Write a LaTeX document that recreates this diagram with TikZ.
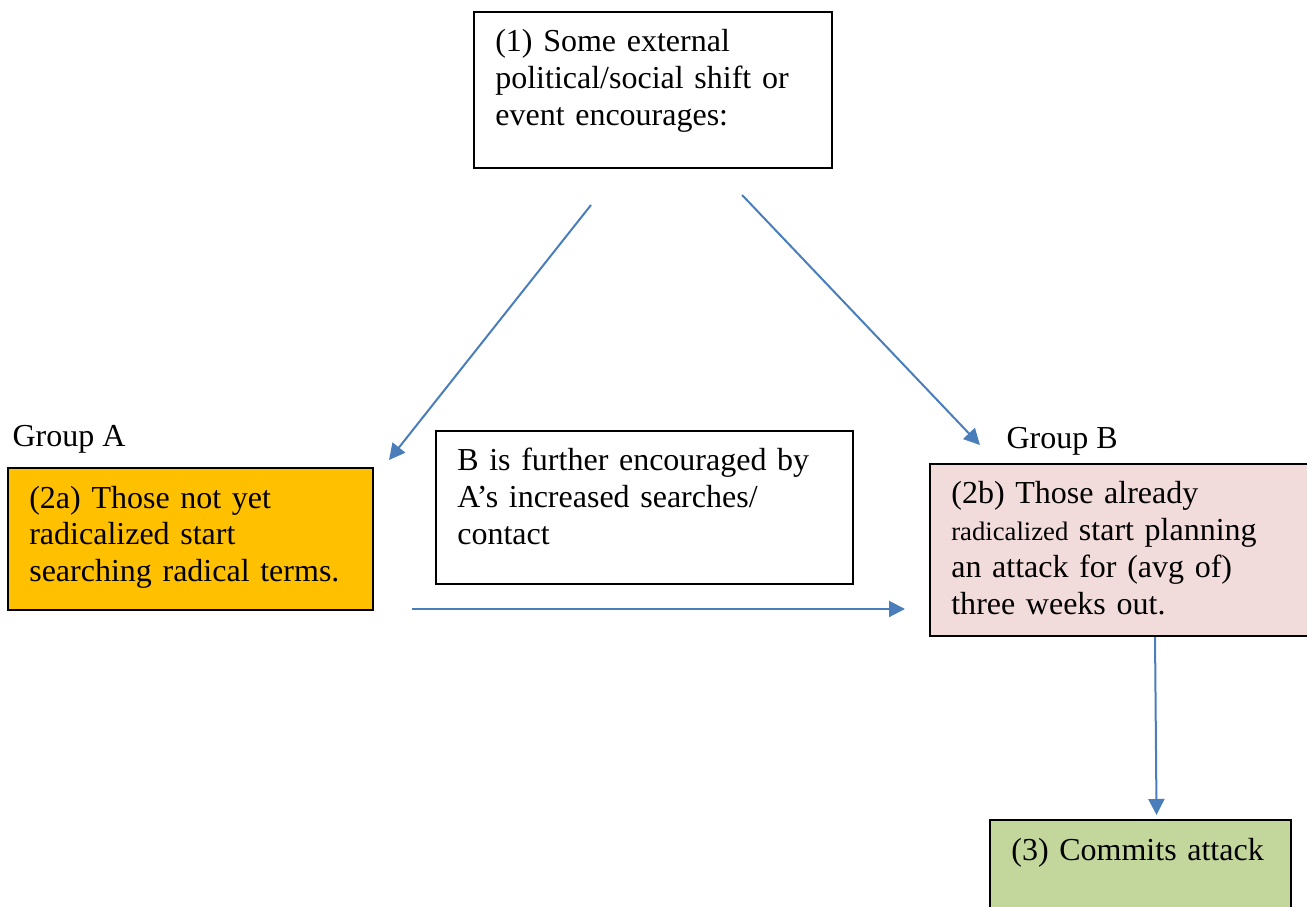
\documentclass[tikz,border=0pt]{standalone}
\usepackage{fontspec}
\setmainfont{Liberation Serif}
\usetikzlibrary{arrows.meta}
\definecolor{fillA}{HTML}{FFC000}
\definecolor{fillB}{HTML}{F2DCDB}
\definecolor{fillC}{HTML}{C3D69B}
\definecolor{linkblue}{HTML}{4A7EBB}

\begin{document}
\begin{tikzpicture}[->,x=0.375pt,y=-0.375pt,
            >={Triangle[length=6pt,width=6pt]},
            font=\fontsize{12}{13.8}\selectfont,
            box/.style = {draw,line width=0.75pt,anchor=north west,
                align=left,inner xsep=8pt,inner ysep=5pt,text height=10pt},
            group/.style = {anchor=base west,inner sep=0pt},
            link/.style = {color=linkblue,line width=0.75pt}]
            \useasboundingbox (0,0) rectangle (1307,907);
            \node[box,text width=118.25pt,text depth=38.5pt](b1) at (473,11)
                {(1) Some external\\ political/social shift or\\ event encourages:};
            \node[box,fill=fillA,text width=120.9pt,text depth=33.25pt](b2a) at (7,467)
                {(2a) Those not yet\\ radicalized start\\ searching radical terms.};
            \node[box,text width=140.4pt,text depth=37.4pt](mid) at (435,430)
                {B is further encouraged by\\ A’s increased searches/\\ contact};
            \node[box,fill=fillB,text width=125.75pt,text depth=44.5pt](b2b) at (929,463)
                {(2b) Those already\\ {\fontsize{10}{12}\selectfont radicalized} start planning\\
                an attack for (avg of)\\ three weeks out.};
            \node[box,fill=fillC,text width=96.9pt,text depth=25pt](b3) at (989,819)
                {(3) Commits attack};
            \node[group](ga) at (12,447) {Group A};
            \node[group](gb) at (1006,449) {Group B};
            \path[link]
                ([xshift=-23.25pt,yshift=-13.5pt]b1.south) edge ([xshift=5.6pt,yshift=2.6pt]b2a.north east)
                ([xshift=33.4pt,yshift=-9.75pt]b1.south) edge ([xshift=19.1pt,yshift=6.75pt]b2b.north west)
                ([xshift=14.25pt,yshift=0.75pt]b2a.south east) edge ([xshift=-9pt,yshift=10.5pt]b2b.south west)
                ([xshift=13.5pt]b2b.south) edge ([xshift=6pt,yshift=1.5pt]b3.north);
            
        \end{tikzpicture}
\end{document}
